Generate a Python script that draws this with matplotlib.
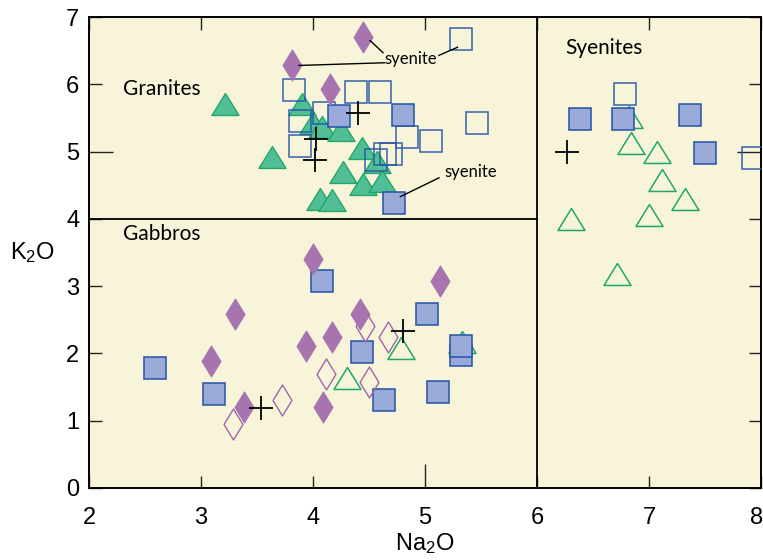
import matplotlib
matplotlib.use("Agg")
import matplotlib.pyplot as plt
from matplotlib.path import Path
from matplotlib.transforms import ScaledTranslation

plt.rcParams['mathtext.default'] = 'regular'

# ---------------- data (Na2O, K2O) ----------------
diam_fill_x = [3.81, 4.15, 4.45, 3.09, 3.30, 3.38, 3.94, 4.00, 4.17, 4.42, 4.09, 5.13]
diam_fill_y = [6.28, 5.93, 6.70, 1.89, 2.59, 1.21, 2.11, 3.40, 2.25, 2.59, 1.21, 3.08]

diam_open_x = [3.29, 3.72, 4.12, 4.46, 4.50, 4.67]
diam_open_y = [0.95, 1.31, 1.70, 2.41, 1.57, 2.25]

tri_fill_x = [3.21, 3.63, 3.90, 4.00, 4.08, 4.25, 4.44, 4.57, 4.27, 4.45, 4.62, 4.06, 4.17]
tri_fill_y = [5.70, 4.92, 5.71, 5.42, 5.36, 5.32, 5.06, 4.85, 4.70, 4.52, 4.57, 4.30, 4.28]

tri_open_x = [4.79, 4.30, 5.33, 6.82, 6.84, 7.07, 7.12, 7.32, 7.00, 6.30, 6.71]
tri_open_y = [2.08, 1.64, 2.17, 5.51, 5.13, 5.00, 4.58, 4.30, 4.06, 4.00, 3.18]

sq_fill_x = [4.23, 4.80, 4.72, 2.59, 3.12, 4.08, 4.44, 4.63, 5.02, 5.32, 5.32, 5.12,
             6.38, 6.77, 7.37, 7.50]
sq_fill_y = [5.53, 5.54, 4.24, 1.79, 1.40, 3.07, 2.02, 1.31, 2.59, 1.98, 2.11, 1.43,
             5.48, 5.48, 5.54, 4.98]

sq_open_x = [5.32, 3.83, 4.38, 4.60, 3.88, 4.10, 3.88, 5.46, 5.05, 4.84, 4.56, 4.64, 4.70,
             6.79, 7.93]
sq_open_y = [6.67, 5.92, 5.88, 5.89, 5.45, 5.58, 5.09, 5.43, 5.15, 5.22, 4.87, 4.97, 4.96,
             5.86, 4.90]

plus_x = [4.40, 4.03, 4.02, 3.54, 4.80, 6.27]
plus_y = [5.57, 5.18, 4.87, 1.19, 2.34, 5.00]

x_ticks = [2, 3, 4, 5, 6, 7, 8]
y_ticks = [0, 1, 2, 3, 4, 5, 6, 7]

# ---------------- style ----------------
bg = '#F8F4D9'
purple = '#A874B0'
purple_edge = '#A066AA'
green_fill = '#52BE96'
green_edge = '#1FA86A'
blue_fill = '#9AAAD8'
blue_edge = '#2352A6'

tri_marker = Path([(-1, -0.81), (1, -0.81), (0, 0.81), (-1, -0.81)],
                  [Path.MOVETO, Path.LINETO, Path.LINETO, Path.CLOSEPOLY])
diam_marker = Path([(0, 1), (0.61, 0), (0, -1), (-0.61, 0), (0, 1)],
                   [Path.MOVETO, Path.LINETO, Path.LINETO, Path.LINETO, Path.CLOSEPOLY])

fig = plt.figure(figsize=(7.63, 5.60), dpi=100)
ax = fig.add_axes([89/763, 1-488/560, (761-89)/763, (488-17)/560])
ax.set_facecolor(bg)

# region boundaries
ax.plot([2, 6], [4, 4], color='black', lw=1.3, zorder=2)
ax.axvline(6, color='black', lw=1.3, zorder=2)

ax.plot(tri_fill_x, tri_fill_y, ls='none', marker=tri_marker, ms=19.5,
        mfc=green_fill, mec=green_edge, mew=1.0, zorder=3)
ax.plot(sq_open_x, sq_open_y, ls='none', marker='s', ms=15.8,
        mfc='none', mec=blue_edge, mew=1.1, alpha=0.9, zorder=4)
ax.plot(tri_open_x, tri_open_y, ls='none', marker=tri_marker, ms=19.5,
        mfc='none', mec=green_edge, mew=1.1, zorder=4)
ax.plot(sq_fill_x, sq_fill_y, ls='none', marker='s', ms=15.8,
        mfc=blue_fill, mec=blue_edge, mew=1.1, zorder=5)
ax.plot(diam_open_x, diam_open_y, ls='none', marker=diam_marker, ms=22.3,
        mfc='none', mec=purple_edge, mew=1.0, zorder=5)
ax.plot(diam_fill_x, diam_fill_y, ls='none', marker=diam_marker, ms=22.3,
        mfc=purple, mec=purple, mew=0.8, zorder=6)
ax.plot(plus_x, plus_y, ls='none', marker='+', ms=17,
        mec='black', mew=1.3, zorder=7)

# annotations
ax.plot([3.875, 4.64], [6.28, 6.32], color='black', lw=1.0, zorder=8)
ax.plot([4.51, 4.625], [6.65, 6.47], color='black', lw=1.0, zorder=8)
ax.plot([5.125, 5.29], [6.43, 6.55], color='black', lw=1.0, zorder=8)
ax.plot([5.125, 4.78], [4.61, 4.33], color='black', lw=1.0, zorder=8)
txt_font = ['Lato', 'DejaVu Sans']
ax.text(4.87, 6.38, 'syenite', fontsize=12, family=txt_font, ha='center', va='center', zorder=9)
ax.text(5.41, 4.69, 'syenite', fontsize=12, family=txt_font, ha='center', va='center', zorder=9)

ax.text(2.30, 5.93, 'Granites', fontsize=15, family=txt_font, ha='left', va='center')
ax.text(2.30, 3.78, 'Gabbros', fontsize=15, family=txt_font, ha='left', va='center')
ax.text(6.25, 6.54, 'Syenites', fontsize=15, family=txt_font, ha='left', va='center')

ax.set_xlim(2, 8)
ax.set_ylim(0, 7)
ax.set_xticks(x_ticks)
ax.set_yticks(y_ticks)
tick_font = ['Liberation Sans Narrow', 'Liberation Sans', 'DejaVu Sans']
ax.set_xticklabels([str(v) for v in x_ticks], family=tick_font, fontsize=17)
ax.set_yticklabels([str(v) for v in y_ticks], family=tick_font, fontsize=17)
ax.tick_params(direction='in', length=9, width=1.0, top=True, right=True, color='#222222')
ax.tick_params(axis='x', pad=14)
ax.tick_params(axis='y', pad=7)
for s in ax.spines.values():
    s.set_linewidth(1.4)

# a few longer ticks, as in the original drawing
yt = ax.yaxis.get_major_ticks()
yt[5].tick1line.set_markersize(17)
yt[5].tick2line.set_markersize(17)
xt = ax.xaxis.get_major_ticks()
xt[3].tick1line.set_markersize(17)

# keep the last x label inside the figure
last = ax.get_xticklabels()[-1]
last.set_transform(last.get_transform() + ScaledTranslation(-4/100, 0, fig.dpi_scale_trans))

ax.set_xlabel('Na$_2$O', fontsize=17, family=['Liberation Sans', 'DejaVu Sans'], labelpad=1)
ax.set_ylabel('K$_2$O', fontsize=17, family=['Liberation Sans', 'DejaVu Sans'],
              rotation=0, labelpad=24, va='center')

fig.savefig('out.png', dpi=100, facecolor='white')
